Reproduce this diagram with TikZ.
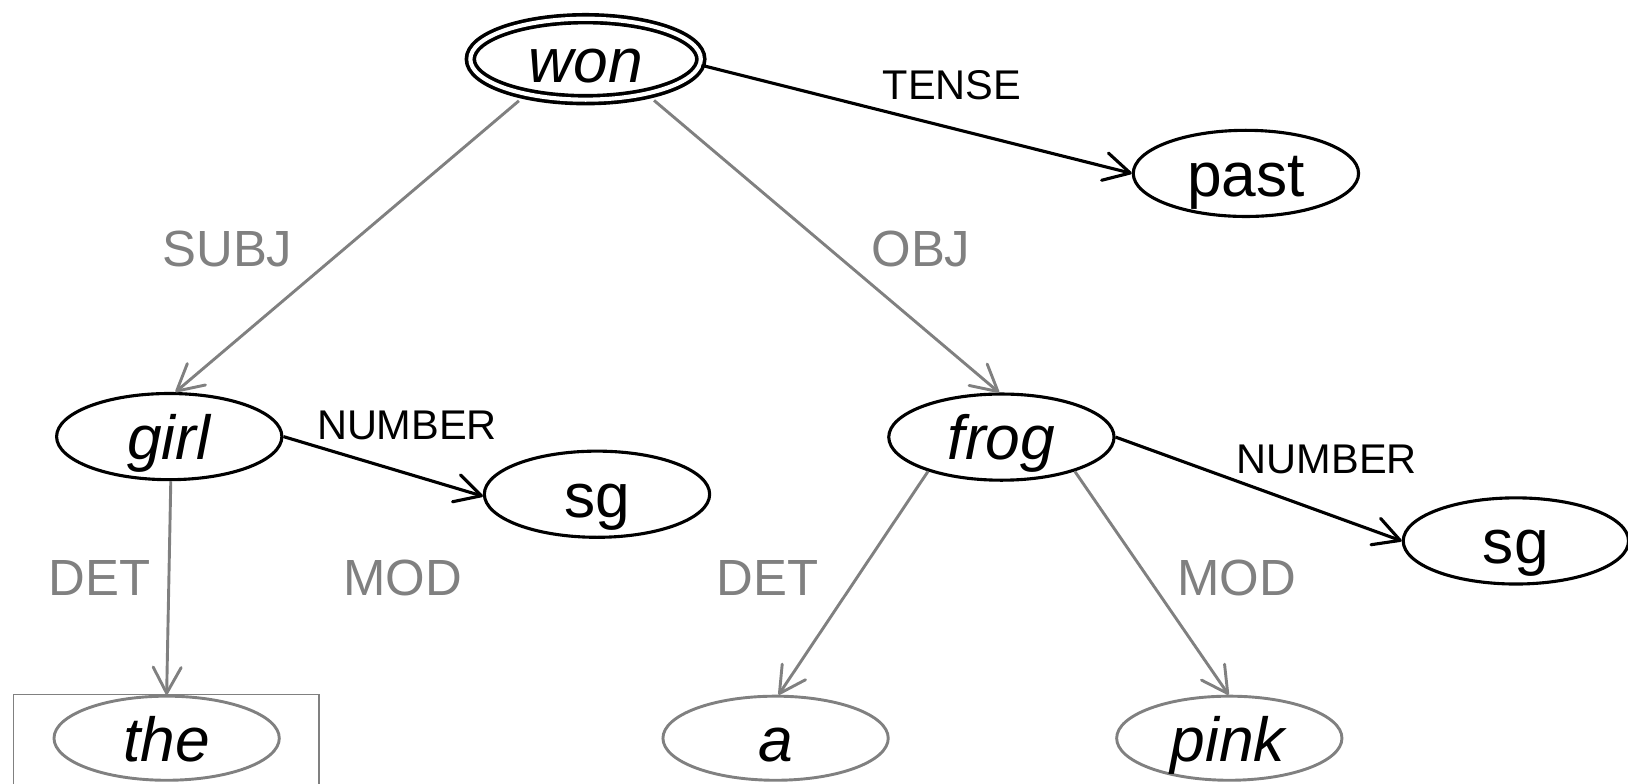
\documentclass[tikz,border=0pt]{standalone}
\usepackage{fontspec}
\setmainfont{Liberation Sans}
\usetikzlibrary{shapes.geometric,arrows.meta}
\definecolor{lgray}{RGB}{128,128,128}
\begin{document}
\begin{tikzpicture}[x=1pt,y=-1pt,
  nd/.style={ellipse, draw=black, line width=3pt, inner sep=0pt,
    minimum width=217pt, minimum height=83pt,
    font=\fontsize{60}{60}\selectfont, text height=44pt, text depth=0pt},
  ndg/.style={nd, draw=lgray, line width=2.8pt, minimum height=81pt},
  rootnd/.style={nd, double=white, double distance=4pt, line width=3.5pt,
    minimum width=222pt, minimum height=78pt},
  edgeb/.style={draw=black, line width=3pt, -{Straight Barb[length=25pt,width=27pt,round]}},
  edgeg/.style={draw=lgray, line width=2.8pt, -{Straight Barb[length=25pt,width=27pt,round]}},
  lblb/.style={inner sep=0pt, text=black, font=\fontsize{40}{40}\selectfont, text height=28.6pt, text depth=0pt},
  lblg/.style={inner sep=0pt, text=lgray, font=\fontsize{49}{49}\selectfont, text height=35pt, text depth=0pt},
  theframe/.style={draw=lgray, line width=1.5pt}
]
\useasboundingbox (0,0) rectangle (1568,755);
\clip (0,0) rectangle (1568,755);
% nodes
\node[rootnd] (won) at (564,57) {\textit{won}};
\node[nd] (past) at (1200,167) {past};
\node[nd] (girl) at (163,420.5) {\textit{girl}};
\node[nd] (sgl) at (575,476) {sg};
\node[nd] (frog) at (964.5,421) {\textit{frog}};
\node[nd] (sgr) at (1460,521) {sg};
\node[ndg] (the) at (160.5,711) {\textit{the}};
\node[ndg] (a) at (747,711) {\textit{a}};
\node[ndg] (pink) at (1184,711) {\textit{pink}};
% frame around "the"
\draw[theframe] (13,790) |- (307,669) -- (307,790);
% edges
\draw[edgeb] (won.357) -- (past.180);
\draw[edgeg, shorten <=8pt] (won.211) -- (girl.82);
\draw[edgeg, shorten <=8pt] (won.330) -- (frog.93);
\draw[edgeb] (girl.0) -- (sgl.181);
\draw[edgeg] (girl.272) -- (the.90);
\draw[edgeb] (frog.0) -- (sgr.180);
\draw[edgeg] (frog.205) -- (a.86);
\draw[edgeg] (frog.335) -- (pink.91);
% labels
\node[lblb] (ltense) at (917,82) {TENSE};
\node[lblg] (lsubj) at (219,239) {SUBJ};
\node[lblg] (lobj) at (887,239) {OBJ};
\node[lblb] (lnuml) at (392,409) {NUMBER};
\node[lblg] (ldetl) at (96,556) {DET};
\node[lblg] (lmodl) at (388,556) {MOD};
\node[lblg] (ldetr) at (739,556) {DET};
\node[lblg] (lmodr) at (1191,556) {MOD};
\node[lblb] (lnumr) at (1278,442) {NUMBER};
\end{tikzpicture}
\end{document}
